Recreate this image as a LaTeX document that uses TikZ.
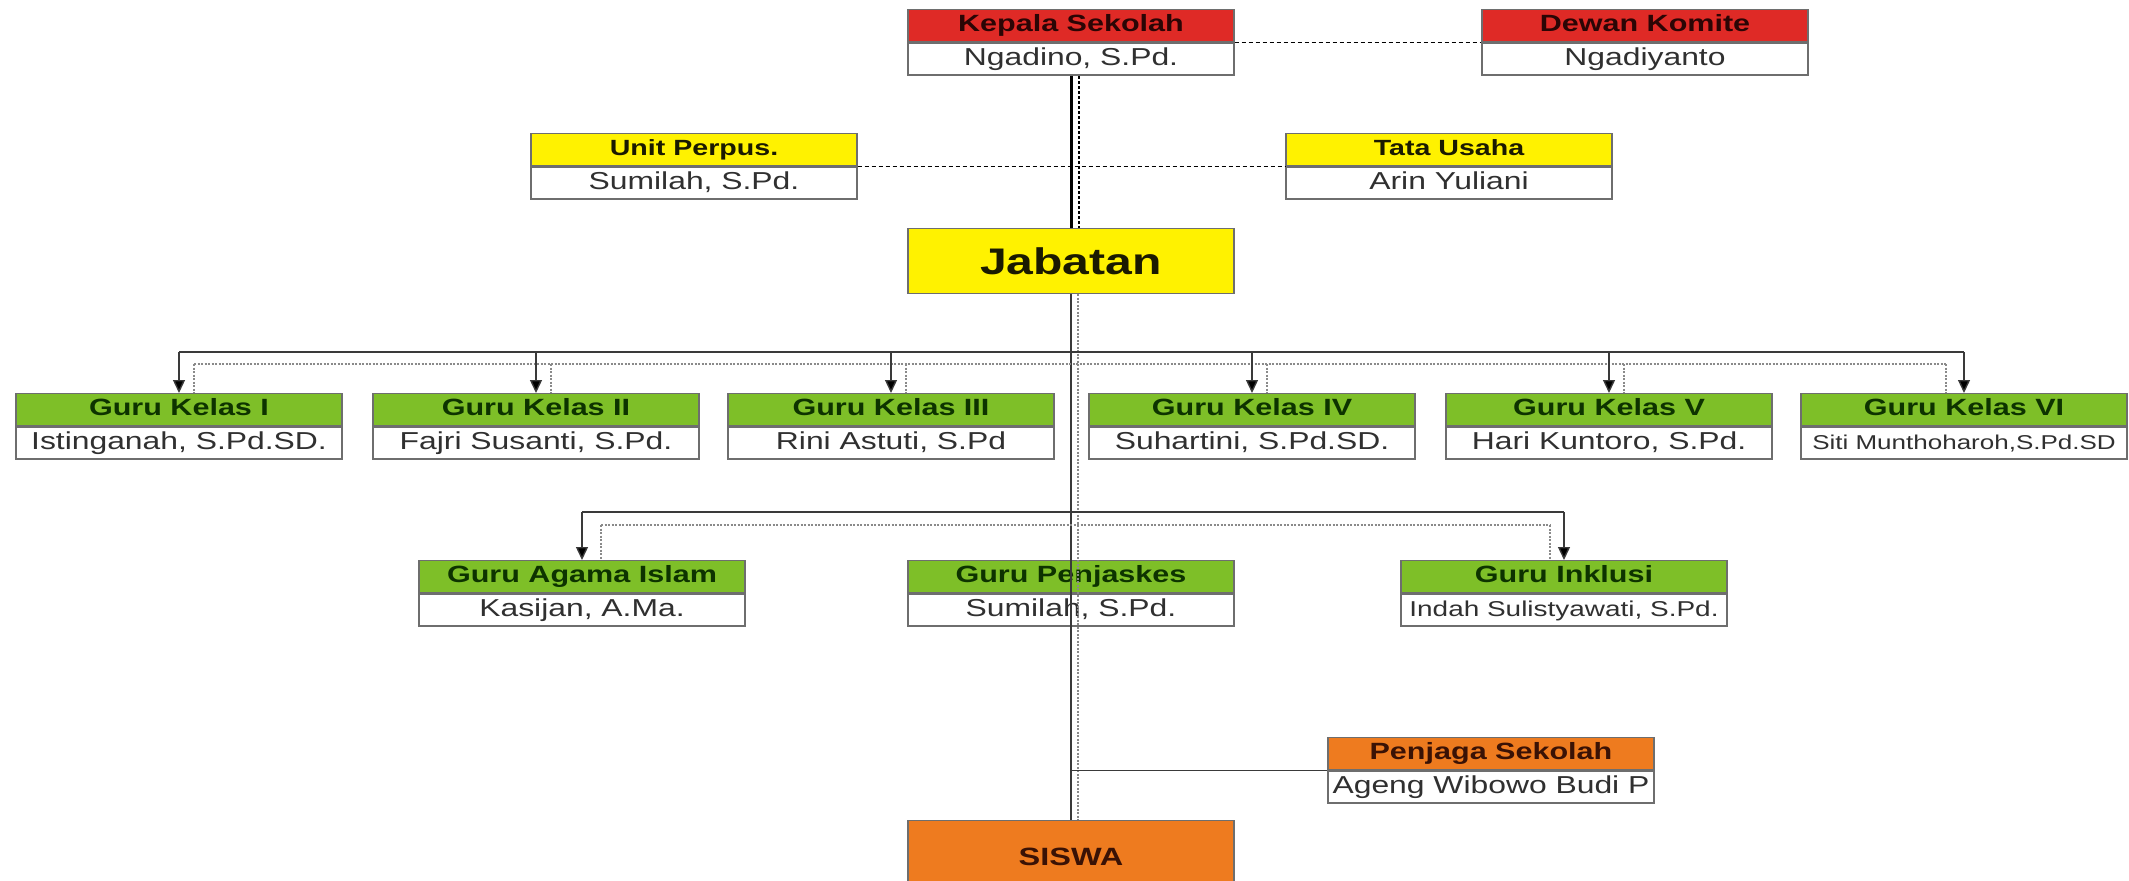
\documentclass[tikz,border=0pt]{standalone}
\usepackage{fontspec}
\setmainfont{Liberation Sans}[FakeStretch=1.3]
\usetikzlibrary{arrows.meta}
\definecolor{kred}{HTML}{DF2A26}
\definecolor{kyel}{HTML}{FFF200}
\definecolor{kgrn}{HTML}{7EBF28}
\definecolor{korg}{HTML}{EE7B1F}
\definecolor{bord}{HTML}{6E6E6E}
\definecolor{btxt}{HTML}{303030}
\definecolor{gtxt}{HTML}{0D3300}
\definecolor{rtxt}{HTML}{2B0505}
\definecolor{ytxt}{HTML}{1A1A00}
\definecolor{otxt}{HTML}{3A1205}
\definecolor{lgray}{HTML}{3A3A3A}
\definecolor{dgray}{HTML}{8A8A8A}
\begin{document}
\begin{tikzpicture}[x=1pt,y=-1pt,
  box/.style={draw=bord, line width=1.4pt, minimum width=326pt, minimum height=32pt,
    inner sep=0pt, anchor=north, text height=17pt, text depth=4.5pt},
  hdr/.style={box, font=\fontsize{23.5}{23.5}\selectfont\bfseries},
  redh/.style={hdr, fill=kred, text=rtxt},
  yelh/.style={hdr, fill=kyel, text=ytxt},
  grnh/.style={hdr, fill=kgrn, text=gtxt},
  orgh/.style={hdr, fill=korg, text=otxt},
  bdy/.style={box, fill=white, text=btxt, font=\fontsize{24.5}{24.5}\selectfont},
  solidbus/.style={draw=lgray, line width=1.4pt},
  dotbus/.style={draw=dgray, line width=1.6pt, dash pattern=on 2pt off 1.5pt},
  arr/.style={draw=lgray, line width=1.4pt, -{Triangle[width=12pt,length=13pt, fill=black]}},
  dashlink/.style={draw=black, line width=1.3pt, dash pattern=on 4pt off 3pt},
]
\useasboundingbox (0,0) rectangle (2129,881);

\coordinate (b1y) at (0,352);
\coordinate (d1y) at (0,364);
\coordinate (b2y) at (0,512);
\coordinate (d2y) at (0,525);

% top level
\node[redh] (kepH) at (1071,9) {Kepala Sekolah};
\node[bdy] (kepB) at (kepH.south) {Ngadino, S.Pd.};
\node[redh] (dewH) at (1645,9) {Dewan Komite};
\node[bdy] (dewB) at (dewH.south) {Ngadiyanto};

\node[yelh, font=\fontsize{22}{22}\selectfont\bfseries] (unH) at (694,133) {Unit Perpus.};
\node[bdy] (unB) at (unH.south) {Sumilah, S.Pd.};
\node[yelh, font=\fontsize{22}{22}\selectfont\bfseries] (tuH) at (1449,133) {Tata Usaha};
\node[bdy] (tuB) at (tuH.south) {Arin Yuliani};

\node[draw=bord, line width=1.4pt, fill=kyel, text=ytxt, minimum width=326pt, minimum height=65pt,
  inner sep=0pt, anchor=north, font=\fontsize{37}{37}\selectfont\bfseries] (jab) at (1071,228) {Jabatan};

% row 1
\node[grnh] (k1H) at (179,393) {Guru Kelas I};
\node[bdy] (k1B) at (k1H.south) {Istinganah, S.Pd.SD.};
\node[grnh] (k2H) at (536,393) {Guru Kelas II};
\node[bdy] (k2B) at (k2H.south) {Fajri Susanti, S.Pd.};
\node[grnh] (k3H) at (891,393) {Guru Kelas III};
\node[bdy] (k3B) at (k3H.south) {Rini Astuti, S.Pd};
\node[grnh] (k4H) at (1252,393) {Guru Kelas IV};
\node[bdy] (k4B) at (k4H.south) {Suhartini, S.Pd.SD.};
\node[grnh] (k5H) at (1609,393) {Guru Kelas V};
\node[bdy] (k5B) at (k5H.south) {Hari Kuntoro, S.Pd.};
\node[grnh] (k6H) at (1964,393) {Guru Kelas VI};
\node[bdy, font=\fontsize{20}{20}\selectfont] (k6B) at (k6H.south) {Siti Munthoharoh,S.Pd.SD};

% row 2
\node[grnh] (agH) at (582,560) {Guru Agama Islam};
\node[bdy] (agB) at (agH.south) {Kasijan, A.Ma.};
\node[grnh] (pjkH) at (1071,560) {Guru Penjaskes};
\node[bdy] (pjkB) at (pjkH.south) {Sumilah, S.Pd.};
\node[grnh] (inH) at (1564,560) {Guru Inklusi};
\node[bdy, font=\fontsize{21.5}{21.5}\selectfont] (inB) at (inH.south) {Indah Sulistyawati, S.Pd.};

% penjaga & siswa
\node[orgh] (pgH) at (1491,737) {Penjaga Sekolah};
\node[bdy] (pgB) at (pgH.south) {Ageng Wibowo Budi P};
\node[draw=bord, line width=1.4pt, fill=korg, text=otxt, minimum width=326pt, minimum height=72pt,
  inner sep=0pt, anchor=north, font=\fontsize{25}{25}\selectfont\bfseries] (siswa) at (1071,820) {SISWA};

% helper coordinates
\foreach \n in {1,...,5} { \path ([xshift=15pt]k\n H.north) coordinate (k\n d); }
\path ([xshift=-18pt]k6H.north) coordinate (k6d);
\path ([xshift=19pt]agH.north) coordinate (agd);
\path ([xshift=-14pt]inH.north) coordinate (ind);
\path ([xshift=8pt]kepB.south) coordinate (kepd);
\path ([xshift=7pt]jab.south) coordinate (jabd);

% dashed staff links
\draw[dashlink] (kepH.south east) -- (dewH.south west);
\draw[dashlink] (unH.south east) -- (tuH.south west);

% main spine
\draw[draw=black, line width=3pt] (kepB.south) -- (jab.north);
\draw[draw=black, line width=2pt, dash pattern=on 3pt off 2pt] (kepd) -- (kepd |- jab.north);
\draw[solidbus] (jab.south) -- (siswa.north);
\draw[dotbus] (jabd) -- (jabd |- siswa.north);

% row 1 bus
\draw[solidbus] (k1H.north |- b1y) -- (k6H.north |- b1y);
\draw[dotbus] (k1d |- d1y) -- (k6d |- d1y);
\foreach \n in {1,...,6} {
  \draw[arr] (k\n H.north |- b1y) -- (k\n H.north);
  \draw[dotbus] (k\n d |- d1y) -- (k\n d);
}

% row 2 bus
\draw[solidbus] (agH.north |- b2y) -- (inH.north |- b2y);
\draw[dotbus] (agd |- d2y) -- (ind |- d2y);
\draw[arr] (agH.north |- b2y) -- (agH.north);
\draw[arr] (inH.north |- b2y) -- (inH.north);
\draw[dotbus] (agd |- d2y) -- (agd);
\draw[dotbus] (ind |- d2y) -- (ind);

% penjaga link
\draw[solidbus] (pgH.south west -| jab.south) -- (pgH.south west);
\end{tikzpicture}
\end{document}
